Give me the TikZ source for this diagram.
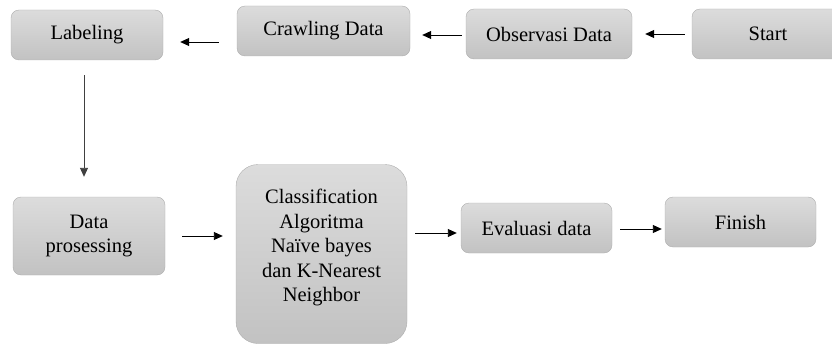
\documentclass[tikz,border=0pt]{standalone}
\usepackage{fontspec}
\setmainfont{Liberation Serif}
\usetikzlibrary{arrows.meta}

\definecolor{boxtop}{HTML}{DCDCDC}
\definecolor{boxbot}{HTML}{C2C2C2}
\definecolor{boxline}{HTML}{AEAEAE}

\begin{document}
\begin{tikzpicture}[x=1pt,y=-1pt,
    box/.style={draw=boxline, top color=boxtop, bottom color=boxbot,
        rounded corners=8pt, align=center, inner sep=0pt, text=black,
        font=\fontsize{20.5}{24.5}\selectfont},
    arr/.style={-{Triangle[length=9pt,width=8pt]}, line width=0.9pt}]
    \useasboundingbox (0,0) rectangle (832,345);

    % top row, runs from right to left
    \node[box, minimum width=152, minimum height=50] (label) at (87,35) {Labeling};
    \node[box, minimum width=173, minimum height=50] (crawl) at (323.5,31) {Crawling Data};
    \node[box, minimum width=166, minimum height=50] (obs) at (549,34) {Observasi Data};
    \node[box, minimum width=152, minimum height=50] (start) at (768,34) {Start};

    % bottom row
    \node[box, minimum width=152, minimum height=78] (dp) at (89,236) {Data\\prosessing};
    \node[box, minimum width=171, minimum height=179, rounded corners=22pt] (cls) at (321.5,254)
        {Classification\\Algoritma\\Naïve bayes\\dan K-Nearest\\Neighbor\\[-8pt]};
    \node[box, minimum width=151, minimum height=50] (eval) at (536.5,228) {Evaluasi data};
    \node[box, minimum width=151, minimum height=50] (finish) at (740.5,222) {Finish};

    % arrows
    \draw[arr, shorten <=7, shorten >=13] (start.west) -- (start.west -| obs.east);
    \draw[arr, shorten <=4, shorten >=12] ([yshift=-1]obs.west) -- ([yshift=-1]obs.west -| crawl.east);
    \draw[arr, shorten <=18, shorten >=17] ([yshift=-11]crawl.west) -- ([yshift=-7]label.east);
    \draw[arr, black!75, shorten <=15, shorten >=20] ([xshift=-3]label.south) -- ([xshift=-3]label.south |- dp.north);
    \draw[arr, shorten <=17, shorten >=13] (dp.east) -- (dp.east -| cls.west);
    \draw[arr, shorten <=8, shorten >=4] ([yshift=-5]eval.west -| cls.east) -- ([yshift=-5]eval.west);
    \draw[arr, shorten <=8, shorten >=3] ([yshift=-1]eval.east) -- ([yshift=-1]eval.east -| finish.west);
\end{tikzpicture}
\end{document}
